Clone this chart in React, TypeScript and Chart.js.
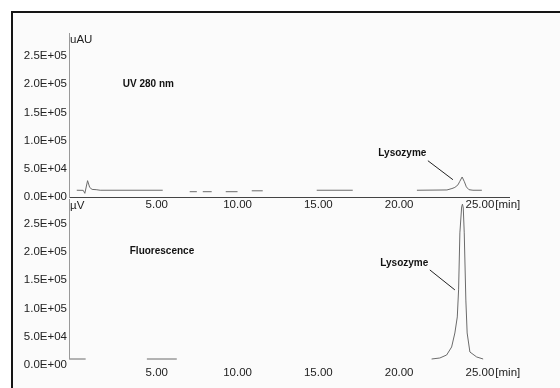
import { useEffect, useRef } from "react";
import { Chart, registerables } from "chart.js";

Chart.register(...registerables);

// ---- axis ticks ----
const xTickValues = [5, 10, 15, 20, 25];
const xTickLabels = ["5.00", "10.00", "15.00", "20.00", "25.00"];
const yTickValues = [0, 50000, 100000, 150000, 200000, 250000];
const yTickLabels = ["0.0E+00", "5.0E+04", "1.0E+05", "1.5E+05", "2.0E+05", "2.5E+05"];

// ---- UV 280 nm trace (min, uAU); null = gap in the drawn trace ----
const uvTime = [
  0.05, 0.45, 0.55, 0.72, 0.85, 1.0, 1.25, 1.5, 5.37, 5.5,
  7.04, 7.48, 7.6, 7.85, 8.4, 8.6, 9.27, 10.0, 10.4, 10.88, 11.56, 12.0,
  14.9, 17.13, 18.0, 21.1, 22.96, 23.27, 23.45, 23.64, 23.76, 23.9, 24.04,
  24.16, 24.32, 24.57, 25.12,
];
const uvSignal = [
  12000, 11800, 6500, 29000, 17000, 13500, 13000, 12000, 12000, null,
  9400, 9400, null, 9400, 9400, null, 9400, 9400, null, 11000, 11000, null,
  12000, 12000, null, 12000, 12500, 15000, 17000, 21500, 28000, 35500, 27000,
  18000, 13000, 12000, 12000,
];

// ---- Fluorescence trace (min, µV) ----
const flTime = [
  -0.4, 0.6, 1.0, 4.39, 6.24, 7.0,
  22.01, 22.52, 22.94, 23.25, 23.45, 23.6, 23.68, 23.76, 23.87, 23.92, 23.97,
  24.03, 24.13, 24.21, 24.38, 24.8, 25.2,
];
const flSignal = [
  10600, 10600, null, 10600, 10600, null,
  10600, 12400, 17700, 31900, 56700, 85100, 133000, 234000, 280000, 285000, 278000,
  234000, 115000, 56700, 23000, 14200, 10600,
];

// ---- annotations ----
const uvNotes = {
  unit: "uAU",
  title: { text: "UV 280 nm", x: 2.9, y: 200000 },
  peak: { text: "Lysozyme", x: 20.2, y: 78500, from: [21.78, 64400], to: [23.33, 30700] },
};
const flNotes = {
  unit: "µV",
  title: { text: "Fluorescence", x: 3.33, y: 202000 },
  peak: { text: "Lysozyme", x: 20.32, y: 181000, from: [21.9, 168400], to: [23.45, 133000] },
  axisFloor: 10600,
};

const FONT = "'Liberation Sans', Arial, Helvetica, sans-serif";
const TICK_SIZE = 11.5;

const notesPlugin = {
  id: "panelNotes",
  afterDraw(chart: any, _args: any, opts: any) {
    const { ctx, chartArea } = chart;
    const xs = chart.scales.x;
    const ys = chart.scales.y;
    ctx.save();
    if (opts.axisFloor != null) {
      const yb = ys.getPixelForValue(opts.axisFloor);
      ctx.strokeStyle = "#999";
      ctx.lineWidth = 1;
      ctx.beginPath();
      ctx.moveTo(Math.round(chartArea.left) + 0.5, chartArea.top);
      ctx.lineTo(Math.round(chartArea.left) + 0.5, Math.round(yb) + 0.5);
      ctx.stroke();
    }
    ctx.fillStyle = "#222";
    ctx.font = `${TICK_SIZE}px ${FONT}`;
    ctx.textBaseline = "middle";
    ctx.textAlign = "left";
    ctx.fillText(opts.unit, chartArea.left + 1, chartArea.top + 7);
    const last = xTickValues.length - 1;
    const xl = xs.getPixelForValue(xTickValues[last]);
    const w = ctx.measureText(xTickLabels[last]).width;
    ctx.fillText("[min]", xl + w / 2 + 1, chartArea.bottom + 1 + (TICK_SIZE * 1.2) / 2);

    ctx.font = `bold 10px ${FONT}`;
    ctx.fillStyle = "#111";
    ctx.fillText(opts.title.text, xs.getPixelForValue(opts.title.x), ys.getPixelForValue(opts.title.y));
    ctx.textAlign = "center";
    ctx.fillText(opts.peak.text, xs.getPixelForValue(opts.peak.x), ys.getPixelForValue(opts.peak.y));
    ctx.strokeStyle = "#222";
    ctx.lineWidth = 1;
    ctx.beginPath();
    ctx.moveTo(xs.getPixelForValue(opts.peak.from[0]), ys.getPixelForValue(opts.peak.from[1]));
    ctx.lineTo(xs.getPixelForValue(opts.peak.to[0]), ys.getPixelForValue(opts.peak.to[1]));
    ctx.stroke();
    ctx.restore();
  },
};

function makeChart(
  canvas: HTMLCanvasElement,
  time: number[],
  signal: (number | null)[],
  notes: any,
  p: { yMax: number; top: number; bottom: number; xBorder: boolean; yBorder: boolean }
) {
  const H = 388;
  return new Chart(canvas, {
    type: "line",
    data: {
      datasets: [
        {
          data: time.map((t, i) => ({ x: t, y: signal[i] })) as any,
          borderColor: "#6a6a6a",
          borderWidth: 1,
          pointRadius: 0,
          tension: 0,
          spanGaps: false,
          fill: false,
        },
      ],
    },
    options: {
      responsive: false,
      animation: false,
      events: [],
      layout: { padding: { left: 0, right: 51, top: p.top, bottom: 0 } },
      plugins: {
        legend: { display: false },
        tooltip: { enabled: false },
        panelNotes: notes,
      } as any,
      scales: {
        x: {
          type: "linear",
          min: -0.43,
          max: 26.8,
          afterFit: (s: any) => {
            s.height = H - p.bottom;
          },
          afterBuildTicks: (s: any) => {
            s.ticks = xTickValues.map((v) => ({ value: v }));
          },
          grid: { display: false, drawTicks: false },
          border: { display: p.xBorder, color: "#444", width: 1 },
          ticks: {
            padding: 1,
            color: "#222",
            maxRotation: 0,
            autoSkip: false,
            font: { family: FONT, size: TICK_SIZE },
            callback: (v: any) => xTickLabels[xTickValues.indexOf(Number(v))],
          },
        },
        y: {
          type: "linear",
          min: 0,
          max: p.yMax,
          afterFit: (s: any) => {
            s.width = 69;
          },
          afterBuildTicks: (s: any) => {
            s.ticks = yTickValues.map((v) => ({ value: v }));
          },
          grid: { display: false, drawTicks: false },
          border: { display: p.yBorder, color: "#999", width: 1 },
          ticks: {
            padding: 2,
            color: "#222",
            autoSkip: false,
            font: { family: FONT, size: TICK_SIZE },
            callback: (v: any) => yTickLabels[yTickValues.indexOf(Number(v))],
          },
        },
      },
    } as any,
    plugins: [notesPlugin as any],
  });
}

export default function App() {
  const topRef = useRef<HTMLCanvasElement>(null);
  const botRef = useRef<HTMLCanvasElement>(null);

  useEffect(() => {
    const c1 = makeChart(topRef.current!, uvTime, uvSignal, uvNotes, {
      yMax: 291000,
      top: 33,
      bottom: 197,
      xBorder: true,
      yBorder: true,
    });
    const c2 = makeChart(botRef.current!, flTime, flSignal, flNotes, {
      yMax: 294000,
      top: 199,
      bottom: 365,
      xBorder: false,
      yBorder: false,
    });
    return () => {
      c1.destroy();
      c2.destroy();
    };
  }, []);

  return (
    <div
      style={{
        position: "absolute",
        left: 0,
        top: 0,
        width: 560,
        height: 388,
        overflow: "hidden",
        background: "#ffffff",
      }}
    >
      <div
        style={{
          position: "absolute",
          left: 11,
          top: 11,
          width: 620,
          height: 440,
          borderTop: "2px solid #151515",
          borderLeft: "2px solid #151515",
          background: "#fbfbfb",
        }}
      />
      <canvas
        ref={topRef}
        width={560}
        height={388}
        style={{ position: "absolute", left: 0, top: 0, width: 560, height: 388 }}
      />
      <canvas
        ref={botRef}
        width={560}
        height={388}
        style={{ position: "absolute", left: 0, top: 0, width: 560, height: 388 }}
      />
    </div>
  );
}
